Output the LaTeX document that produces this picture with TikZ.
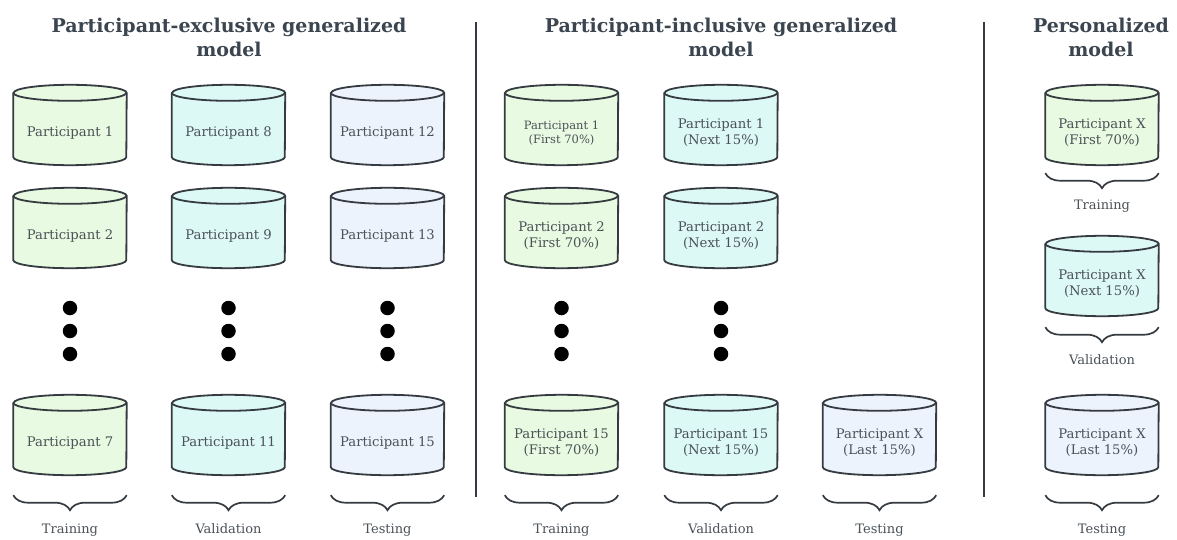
\documentclass[tikz,border=0pt]{standalone}
\usepackage{fontspec}
\setmainfont{DejaVu Serif}
\usetikzlibrary{decorations.pathreplacing,backgrounds}

\definecolor{cgreen}{HTML}{E8FAE1}
\definecolor{ccyan}{HTML}{DDF9F5}
\definecolor{cblue}{HTML}{ECF3FD}
\definecolor{cline}{HTML}{353B41}
\definecolor{ctext}{HTML}{4A5157}
\definecolor{ctitle}{HTML}{3B4550}

\tikzset{
 cyl/.style={minimum width=113pt, minimum height=64pt, inner sep=0pt, align=center, text=ctext, font=\fontsize{13.2}{16}\selectfont},
 cylsmall/.style={font=\fontsize{11.5}{14}\selectfont},
 titletext/.style={align=center, text=ctitle, font=\fontsize{19}{24}\selectfont\bfseries},
 lbl/.style={text=ctext, font=\fontsize{13}{15}\selectfont, inner sep=0pt, anchor=base},
 brc/.style={draw=cline, line width=1.7pt, decorate, decoration={brace, mirror, amplitude=15pt}},
 sep/.style={draw=cline, line width=2pt},
 dotmark/.style={circle, fill=black, minimum size=14.5pt, inner sep=0pt},
 cylline/.style={draw=cline, line width=1.8pt, line join=round},
}

\newcommand\drawcyl[2]{%
 \begin{pgfonlayer}{background}
 \filldraw[cylline, fill=#2] ([yshift=8pt]#1.north west) -- ([yshift=8pt]#1.south west) arc[start angle=180, end angle=360, x radius=56.5pt, y radius=8pt] -- ([yshift=8pt]#1.north east) arc[start angle=0, end angle=180, x radius=56.5pt, y radius=8pt] -- cycle;
 \draw[cylline] ([yshift=8pt]#1.north west) arc[start angle=180, end angle=360, x radius=56.5pt, y radius=8pt];
 \end{pgfonlayer}}

\begin{document}
\begin{tikzpicture}[x=1pt,y=1pt]
\useasboundingbox (0,0) rectangle (1177,-540);
\begin{pgfonlayer}{background}
\fill[white] (0,0) rectangle (1177,-540);
\end{pgfonlayer}

% titles
\node[titletext] (t1) at (229,-37) {Participant-exclusive generalized\\model};
\node[titletext] (t2) at (721,-37) {Participant-inclusive generalized\\model};
\node[titletext] (t3) at (1101,-37) {Personalized\\model};

% separators
\coordinate (s1a) at (476,-22); \coordinate (s1b) at (476,-497);
\coordinate (s2a) at (984,-22); \coordinate (s2b) at (984,-497);
\draw[sep] (s1a) -- (s1b);
\draw[sep] (s2a) -- (s2b);

% left panel
\node[cyl] (a1) at (70,-133) {Participant 1}; \drawcyl{a1}{cgreen}
\node[cyl] (a2) at (70,-236) {Participant 2}; \drawcyl{a2}{cgreen}
\node[cyl] (a3) at (70,-443) {Participant 7}; \drawcyl{a3}{cgreen}
\node[cyl] (b1) at (228.5,-133) {Participant 8}; \drawcyl{b1}{ccyan}
\node[cyl] (b2) at (228.5,-236) {Participant 9}; \drawcyl{b2}{ccyan}
\node[cyl] (b3) at (228.5,-443) {Participant 11}; \drawcyl{b3}{ccyan}
\node[cyl] (c1) at (387.5,-133) {Participant 12}; \drawcyl{c1}{cblue}
\node[cyl] (c2) at (387.5,-236) {Participant 13}; \drawcyl{c2}{cblue}
\node[cyl] (c3) at (387.5,-443) {Participant 15}; \drawcyl{c3}{cblue}

\foreach \n/\x in {a/70,b/228.5,c/387.5,m/561.5,n/721}{
  \node[dotmark] (\n d1) at (\x,-308) {};
  \node[dotmark] (\n d2) at (\x,-331) {};
  \node[dotmark] (\n d3) at (\x,-354) {};
}

% middle panel
\node[cyl,cylsmall] (m1) at (561.5,-133) {Participant 1\\(First 70\%)}; \drawcyl{m1}{cgreen}
\node[cyl] (m2) at (561.5,-236) {Participant 2\\(First 70\%)}; \drawcyl{m2}{cgreen}
\node[cyl] (m3) at (561.5,-443) {Participant 15\\(First 70\%)}; \drawcyl{m3}{cgreen}
\node[cyl] (n1) at (721,-133) {Participant 1\\(Next 15\%)}; \drawcyl{n1}{ccyan}
\node[cyl] (n2) at (721,-236) {Participant 2\\(Next 15\%)}; \drawcyl{n2}{ccyan}
\node[cyl] (n3) at (721,-443) {Participant 15\\(Next 15\%)}; \drawcyl{n3}{ccyan}
\node[cyl] (o3) at (879.5,-443) {Participant X\\(Last 15\%)}; \drawcyl{o3}{cblue}

% right panel
\node[cyl] (r1) at (1102,-133) {Participant X\\(First 70\%)}; \drawcyl{r1}{cgreen}
\node[cyl] (r2) at (1102,-284) {Participant X\\(Next 15\%)}; \drawcyl{r2}{ccyan}
\node[cyl] (r3) at (1102,-443) {Participant X\\(Last 15\%)}; \drawcyl{r3}{cblue}

% braces and labels (bottom row)
\foreach \c/\t in {a3/Training,b3/Validation,c3/Testing,m3/Training,n3/Validation,o3/Testing,r3/Testing}{
  \draw[brc] ([yshift=-20pt]\c.south west) -- ([yshift=-20pt]\c.south east);
  \node[lbl] (\c lbl) at ([yshift=-58pt]\c.south) {\t};
}
\draw[brc] ([yshift=-8pt]r1.south west) -- ([yshift=-8pt]r1.south east);
\node[lbl] (r1lbl) at ([yshift=-44pt]r1.south) {Training};
\draw[brc] ([yshift=-11pt]r2.south west) -- ([yshift=-11pt]r2.south east);
\node[lbl] (r2lbl) at ([yshift=-48pt]r2.south) {Validation};
\end{tikzpicture}
\end{document}
